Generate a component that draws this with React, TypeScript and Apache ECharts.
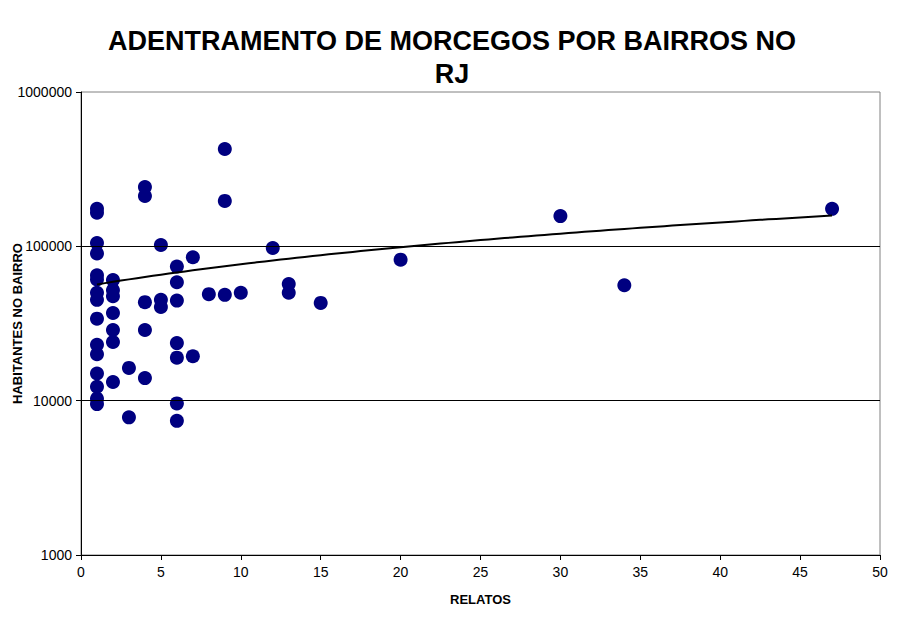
import React, { useEffect, useRef } from "react";
import * as echarts from "echarts";

const TITLE = "ADENTRAMENTO DE MORCEGOS POR BAIRROS NO\nRJ";
const X_NAME = "RELATOS";
const Y_NAME = "HABITANTES NO BAIRRO";

// relatos (x) per point
const relatos = [
  1, 1, 1, 1, 1, 1, 1, 1, 1, 1, 1, 1, 1, 1, 1,
  2, 2, 2, 2, 2, 2, 2,
  3, 3,
  4, 4, 4, 4, 4,
  5, 5, 5,
  6, 6, 6, 6, 6, 6, 6,
  7, 7,
  8,
  9, 9, 9,
  10,
  12,
  13, 13,
  15,
  20,
  30,
  34,
  47,
];

// habitantes no bairro (y) per point
const habitantes = [
  175000, 165000, 105000, 90000, 65000, 61000, 50000, 45000, 34000, 23000, 20000, 15000, 12300, 10300, 9500,
  60500, 52000, 47500, 37000, 28700, 24000, 13200,
  16300, 7800,
  242000, 212000, 43500, 28700, 14000,
  102000, 45000, 40500,
  74000, 58500, 44500, 23600, 19000, 9600, 7400,
  85000, 19400,
  49000,
  427000, 197000, 48500,
  50000,
  97500,
  57000, 50000,
  43000,
  82000,
  157000,
  56000,
  175000,
];

const gridValues = [10000, 100000];

function linearFit(xs: number[], ys: number[]) {
  const n = xs.length;
  const mx = xs.reduce((a, b) => a + b, 0) / n;
  const my = ys.reduce((a, b) => a + b, 0) / n;
  let sxy = 0;
  let sxx = 0;
  for (let i = 0; i < n; i++) {
    sxy += (xs[i] - mx) * (ys[i] - my);
    sxx += (xs[i] - mx) * (xs[i] - mx);
  }
  const b = sxy / sxx;
  return { a: my - b * mx, b };
}

export default function App() {
  const ref = useRef<HTMLDivElement>(null);

  useEffect(() => {
    if (!ref.current) return;
    const chart = echarts.init(ref.current, undefined, { renderer: "svg" });
    const points = relatos.map((x, i) => [x, habitantes[i]]);
    const fit = linearFit(relatos, habitantes);
    const xMin = Math.min(...relatos);
    const xMax = Math.max(...relatos);
    const trend: number[][] = [];
    const steps = 92;
    for (let i = 0; i <= steps; i++) {
      const x = xMin + ((xMax - xMin) * i) / steps;
      trend.push([x, fit.a + fit.b * x]);
    }
    const font = "'Liberation Sans', Arial, sans-serif";

    chart.setOption({
      animation: false,
      backgroundColor: "#ffffff",
      title: {
        text: TITLE,
        left: "center",
        top: 24,
        padding: 0,
        textStyle: {
          fontFamily: font,
          fontSize: 27,
          fontWeight: "bold",
          color: "#000",
          lineHeight: 33,
        },
      },
      grid: {
        left: 81,
        top: 92,
        width: 799,
        height: 463,
        containLabel: false,
        outerBoundsMode: "none",
        show: true,
        borderColor: "#808080",
        borderWidth: 1,
        backgroundColor: "transparent",
      },
      xAxis: {
        type: "value",
        min: 0,
        max: 50,
        interval: 5,
        name: X_NAME,
        nameLocation: "middle",
        nameGap: 38,
        nameMoveOverlap: false,
        nameTextStyle: { fontFamily: font, fontSize: 13, fontWeight: "bold", color: "#000" },
        axisLine: { show: true, lineStyle: { color: "#000", width: 1 } },
        axisTick: { show: true, length: 5, lineStyle: { color: "#000" } },
        axisLabel: { fontFamily: font, fontSize: 14, color: "#000", margin: 10 },
        splitLine: { show: false },
      },
      yAxis: {
        type: "log",
        logBase: 10,
        min: 1000,
        max: 1000000,
        name: Y_NAME,
        nameLocation: "middle",
        nameGap: 57,
        nameMoveOverlap: false,
        nameTextStyle: { fontFamily: font, fontSize: 13, fontWeight: "bold", color: "#000" },
        axisLine: { show: true, lineStyle: { color: "#000", width: 1 } },
        axisTick: { show: true, length: 5, lineStyle: { color: "#000" } },
        axisLabel: {
          fontFamily: font,
          fontSize: 14,
          color: "#000",
          margin: 9,
          formatter: (v: number) => String(Math.round(v)),
        },
        splitLine: { show: false },
      },
      series: [
        {
          type: "scatter",
          data: points,
          symbol: "circle",
          symbolSize: 14,
          itemStyle: { color: "#000080", opacity: 1 },
          z: 2,
          markLine: {
            silent: true,
            symbol: "none",
            label: { show: false },
            lineStyle: { color: "#000", type: "solid", width: 1 },
            data: gridValues.map((v) => ({ yAxis: v })),
          },
        },
        {
          type: "line",
          data: trend,
          showSymbol: false,
          symbol: "none",
          smooth: false,
          lineStyle: { color: "#000", width: 2 },
          z: 3,
        },
      ],
    });
    return () => chart.dispose();
  }, []);

  return (
    <div
      ref={ref}
      style={{ position: "fixed", left: 0, top: 0, width: 904, height: 626, background: "#fff" }}
    />
  );
}
